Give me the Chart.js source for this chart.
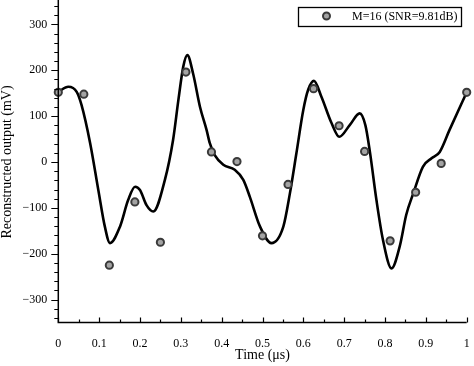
<!DOCTYPE html>
<html lang="en">
<head>
<meta charset="UTF-8">
<title>Reconstructed output</title>
<script src="https://cdn.jsdelivr.net/npm/chart.js@4.4.1/dist/chart.umd.min.js"></script>
<style>
  body { margin: 0; background: #fff; }
  #wrap { width: 474px; height: 366px; position: relative; }
</style>
</head>
<body>
<div id="wrap"><canvas id="grafico"></canvas></div>
<script>
// samples (M=16)
const sampleT = [0, 0.0625, 0.125, 0.1875, 0.25, 0.3125, 0.375, 0.4375, 0.5, 0.5625, 0.625, 0.6875, 0.75, 0.8125, 0.875, 0.9375, 1];
const sampleV = [152, 148, -225, -87, -175, 196, 22, 1, -161, -49, 160, 79, 23, -172, -66, -3, 152];

// reconstructed curve
const curveT = [0, 0.0245, 0.045, 0.057, 0.078, 0.098, 0.114, 0.1265, 0.151, 0.171, 0.188, 0.2, 0.216, 0.2325, 0.261, 0.281, 0.294, 0.306, 0.316, 0.33, 0.347, 0.363, 0.371, 0.383, 0.404, 0.432, 0.453, 0.469, 0.494, 0.522, 0.551, 0.567, 0.583, 0.6, 0.612, 0.626, 0.644, 0.669, 0.688, 0.714, 0.738, 0.752, 0.763, 0.779, 0.795, 0.816, 0.836, 0.852, 0.869, 0.893, 0.914, 0.934, 0.958, 1];
const curveV = [153, 164, 153, 124, 41, -61, -141, -177, -141, -83, -54, -61, -94, -108, -39, 48, 135, 208, 233, 193, 120, 70, 41, 15, -6, -17, -39, -76, -141, -177, -141, -69, 19, 114, 158, 177, 143, 85, 55, 81, 106, 80, 22, -83, -170, -232, -184, -115, -69, -10, 8, 22, 70, 152];

const xTicks = [0, 0.1, 0.2, 0.3, 0.4, 0.5, 0.6, 0.7, 0.8, 0.9, 1];
const yTicks = [-300, -200, -100, 0, 100, 200, 300];
const legendLabel = 'M=16 (SNR=9.81dB)';

const serif = "'Liberation Serif', 'Times New Roman', serif";

// axes lines, major / minor ticks, boxed legend
const ejes = {
  id: 'ejes',
  afterDraw(chart) {
    const c = chart.ctx, a = chart.chartArea;
    const xs = chart.scales.x, ys = chart.scales.y;
    c.save();
    c.strokeStyle = '#000';
    c.lineWidth = 1.5;
    c.beginPath();
    c.moveTo(a.left, 0); c.lineTo(a.left, a.bottom); c.lineTo(a.right, a.bottom);
    c.stroke();
    c.lineWidth = 1.2;
    c.beginPath();
    for (let v = -340; v <= 340; v += 20) {
      const y = Math.round(ys.getPixelForValue(v)) + 0.5;
      const len = (v % 100 === 0) ? 7 : 4;
      c.moveTo(a.left - len, y); c.lineTo(a.left, y);
    }
    for (let i = 0; i <= 20; i++) {
      const x = Math.round(xs.getPixelForValue(i * 0.05)) + 0.5;
      const len = (i % 2 === 0) ? 5 : 3;
      c.moveTo(x, a.bottom); c.lineTo(x, a.bottom - len);
    }
    c.stroke();

    // legend
    c.lineWidth = 1.3;
    c.strokeRect(298.5, 7.5, 163, 19);
    c.beginPath();
    c.arc(326.5, 16, 3.5, 0, Math.PI * 2);
    c.fillStyle = '#a3a3a3';
    c.fill();
    c.lineWidth = 2;
    c.strokeStyle = '#3a3a3a';
    c.stroke();
    c.fillStyle = '#000';
    c.font = '12px ' + serif;
    c.textBaseline = 'middle';
    c.fillText(legendLabel, 352, 17);
    c.restore();
  }
};

const ctx = document.getElementById('grafico').getContext('2d');
new Chart(ctx, {
  data: {
    datasets: [
      {
        type: 'scatter',
        label: legendLabel,
        data: sampleT.map((t, i) => ({ x: t, y: sampleV[i] })),
        pointRadius: 3.6,
        pointBorderWidth: 2,
        pointBackgroundColor: '#a3a3a3',
        pointBorderColor: '#3a3a3a',
        clip: false,
        order: 0
      },
      {
        type: 'line',
        label: 'curve',
        data: curveT.map((t, i) => ({ x: t, y: curveV[i] })),
        borderColor: '#000',
        borderWidth: 2.6,
        pointRadius: 0,
        cubicInterpolationMode: 'monotone',
        fill: false,
        order: 1
      }
    ]
  },
  options: {
    responsive: true,
    maintainAspectRatio: false,
    animation: false,
    layout: { autoPadding: false, padding: { top: 1.5, right: 7.3, left: 0, bottom: 0 } },
    plugins: { legend: { display: false }, tooltip: { enabled: false } },
    scales: {
      x: {
        type: 'linear',
        min: 0, max: 1,
        afterFit(s) { s.height = 43.5; s.paddingLeft = 0; s.paddingRight = 0; },
        afterBuildTicks(s) { s.ticks = xTicks.map(v => ({ value: v })); },
        grid: { display: false, drawTicks: false },
        border: { display: false },
        ticks: {
          padding: 14,
          color: '#000',
          font: { family: serif, size: 12 },
          maxRotation: 0,
          callback: v => String(Number(v.toFixed(1)))
        },
        title: {
          display: true, text: 'Time (μs)', color: '#000',
          font: { family: serif, size: 14 }, padding: { top: 0, bottom: 2 }
        }
      },
      y: {
        type: 'linear',
        min: -350, max: 350,
        afterFit(s) { s.width = 58.3; s.paddingTop = 0; s.paddingBottom = 0; },
        afterBuildTicks(s) { s.ticks = yTicks.map(v => ({ value: v })); },
        grid: { display: false, drawTicks: false },
        border: { display: false },
        ticks: {
          padding: 11,
          color: '#000',
          font: { family: serif, size: 12 },
          callback: v => (v < 0 ? '\u2212' + Math.abs(v) : String(v))
        },
        title: {
          display: true, text: 'Reconstructed output (mV)', color: '#000',
          font: { family: serif, size: 14, lineHeight: 1 }, padding: { top: 0, bottom: 0 }
        }
      }
    }
  },
  plugins: [ejes]
});
</script>
</body>
</html>
